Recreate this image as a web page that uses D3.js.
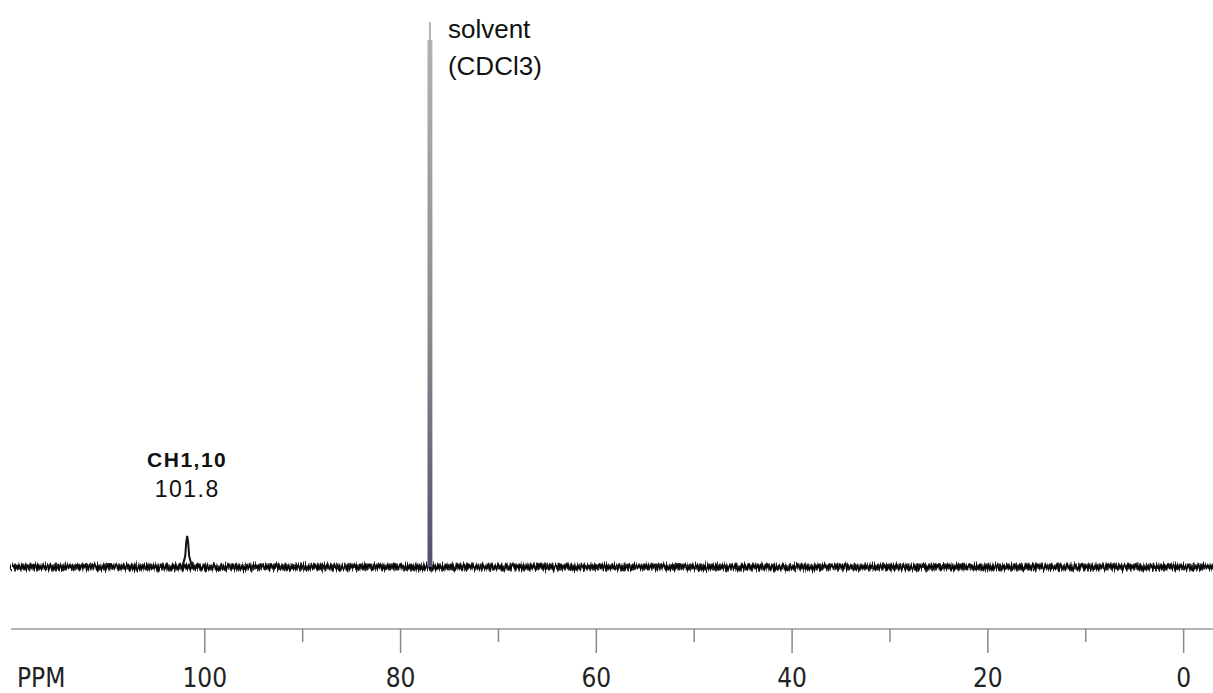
<!DOCTYPE html>
<html>
  <head>
    <meta charset="utf-8">
    <title>13C NMR spectrum</title>
    <script src="https://cdn.jsdelivr.net/npm/d3@7"></script>
    <style>
      body { margin: 0; background: #fff; }
      #chart { display: block; }
      .axisText { font-family: "Liberation Sans Narrow", "DejaVu Sans Condensed", sans-serif; font-size: 26px; fill: #222; }
      .note { font-family: "Liberation Sans", Arial, sans-serif; fill: #111; }
    </style>
  </head>

  <body>
    <svg id="chart" width="1213" height="693">
      <defs>
        <filter id="noise" filterUnits="userSpaceOnUse" x="0" y="530" width="1213" height="75">
          <feTurbulence type="fractalNoise" baseFrequency="0.9 0.08" numOctaves="2" seed="3" result="t"></feTurbulence>
          <feDisplacementMap in="SourceGraphic" in2="t" scale="9" xChannelSelector="G" yChannelSelector="R"></feDisplacementMap>
        </filter>
        <linearGradient id="solventFill" x1="0%" x2="0%" y1="0%" y2="100%">
          <stop offset="0%" stop-color="#b4b4b4"></stop>
          <stop offset="55%" stop-color="#8c8c8c"></stop>
          <stop offset="100%" stop-color="#505070"></stop>
        </linearGradient>
      </defs>
      <g id="axisGroup"></g>
      <g id="spectrum"></g>
      <g id="labels"></g>
    </svg>

    <script>
      // axis ticks (ppm)
      majorTicks = [100, 80, 60, 40, 20, 0];
      minorTicks = [90, 70, 50, 30, 10];

      // baseline extent (ppm)
      baselinePpm = [119.8, -3];

      // CH1,10 peak: ppm / intensity (solvent top = 100)
      chPpm = [102.3, 102.0, 101.9, 101.8, 101.7, 101.6, 101.3];
      chIntensity = [0, 2, 4.5, 5.7, 4.5, 2, 0];

      // solvent (CDCl3) peak outline
      solventPpm = [77.25, 77.25, 77.1, 77.1, 76.9, 76.9, 76.75, 76.75];
      solventIntensity = [0, 96.7, 96.7, 100, 100, 96.7, 96.7, 0];

      // annotations
      peakLabels = [
        { ppm: 101.8, name: "CH1,10", shift: "101.8" }
      ];
      solventLabel = ["solvent", "(CDCl3)"];

      svg = d3.select("#chart");
      axisGroup = d3.select("#axisGroup");
      spectrum = d3.select("#spectrum");
      labels = d3.select("#labels");

      x = d3.scaleLinear()
        .domain([119.8, -3])
        .range([11, 1213]);
      y = d3.scaleLinear()
        .domain([0, 100])
        .range([567, 22]);

      // axis
      axisY = 629;
      axisGroup.append("line")
        .attr("x1", x(baselinePpm[0]))
        .attr("x2", x(baselinePpm[1]))
        .attr("y1", axisY)
        .attr("y2", axisY)
        .style("stroke", "#9a9a9a")
        .style("stroke-width", 1.5);
      axisGroup.selectAll(".major")
          .data(majorTicks)
        .enter().append("line")
          .classed("major", true)
          .attr("x1", function(d) { return x(d); })
          .attr("x2", function(d) { return x(d); })
          .attr("y1", axisY)
          .attr("y2", axisY + 24)
          .style("stroke", "#8a8a8a")
          .style("stroke-width", 1.5);
      axisGroup.selectAll(".minor")
          .data(minorTicks)
        .enter().append("line")
          .classed("minor", true)
          .attr("x1", function(d) { return x(d); })
          .attr("x2", function(d) { return x(d); })
          .attr("y1", axisY)
          .attr("y2", axisY + 13)
          .style("stroke", "#8a8a8a")
          .style("stroke-width", 1.5);
      axisGroup.selectAll(".tickLabel")
          .data(majorTicks)
        .enter().append("text")
          .classed("axisText", true)
          .attr("x", function(d) { return x(d); })
          .attr("y", 687)
          .attr("text-anchor", "middle")
          .text(function(d) { return d; });
      axisGroup.append("text")
        .classed("axisText", true)
        .attr("x", 17)
        .attr("y", 687)
        .text("PPM");

      // spectrum
      line = d3.line()
        .x(function(d) { return x(d[0]); })
        .y(function(d) { return y(d[1]); });

      baseData = baselinePpm.map(function(d) { return [d, 0]; });
      spectrum.append("path")
        .datum(baseData)
        .attr("d", line)
        .attr("filter", "url(#noise)")
        .style("fill", "none")
        .style("stroke", "#333")
        .style("stroke-width", 7);
      spectrum.append("path")
        .datum(baseData)
        .attr("d", line)
        .attr("filter", "url(#noise)")
        .style("fill", "none")
        .style("stroke", "#000")
        .style("stroke-width", 3);

      spectrum.append("path")
        .datum(chPpm.map(function(d, i) { return [d, chIntensity[i]]; }))
        .attr("d", line)
        .style("fill", "none")
        .style("stroke", "#111")
        .style("stroke-width", 2);

      spectrum.append("path")
        .datum(solventPpm.map(function(d, i) { return [d, solventIntensity[i]]; }))
        .attr("d", line)
        .style("fill", "url(#solventFill)")
        .style("stroke", "none");

      // annotations
      peakLabels.forEach(function(p) {
        labels.append("text")
          .classed("note", true)
          .attr("x", x(p.ppm))
          .attr("y", 467)
          .attr("text-anchor", "middle")
          .style("font-size", "21px")
          .style("font-weight", "bold")
          .style("letter-spacing", "1.5px")
          .text(p.name);
        labels.append("text")
          .classed("note", true)
          .attr("x", x(p.ppm))
          .attr("y", 497)
          .attr("text-anchor", "middle")
          .style("font-size", "23px")
          .style("letter-spacing", "1.5px")
          .text(p.shift);
      });
      labels.selectAll(".solventText")
          .data(solventLabel)
        .enter().append("text")
          .classed("note", true)
          .attr("x", x(77.0) + 18)
          .attr("y", function(d, i) { return 38 + i * 37; })
          .style("font-size", "26px")
          .text(function(d) { return d; });
    </script>
  </body>
</html>
